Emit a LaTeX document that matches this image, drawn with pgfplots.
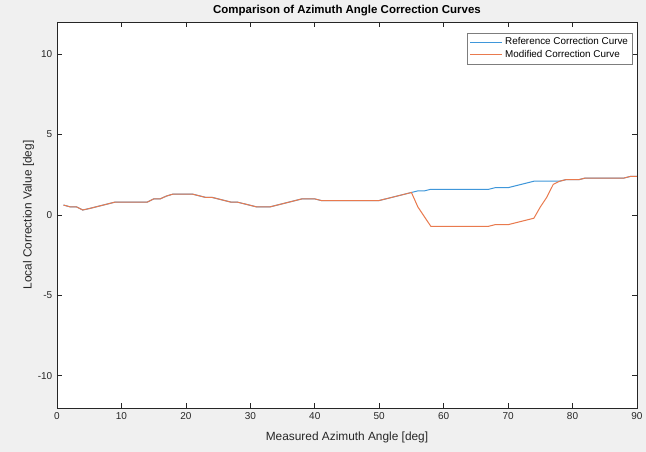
\documentclass[border=0pt]{standalone}
\usepackage{pgfplots}
\pgfplotsset{compat=1.18}
\usepackage{fontspec}
\setmainfont{Liberation Sans}
\definecolor{figbg}{HTML}{F0F0F0}
\definecolor{axc}{HTML}{262626}
\definecolor{mblue}{HTML}{3F97DA}
\definecolor{morange}{HTML}{E97A4E}
\begin{document}
\begin{tikzpicture}
\useasboundingbox (0pt,0pt) rectangle (484.5pt,339pt);
\fill[figbg] (0pt,0pt) rectangle (484.5pt,339pt);
\begin{axis}[
  at={(42.75pt,33pt)}, anchor=south west,
  width=435pt, height=289.5pt, scale only axis,
  xmin=0, xmax=90, ymin=-12, ymax=12,
  xtick={0,10,...,90}, ytick={-10,-5,0,5,10},
  axis background/.style={fill=white},
  axis line style={axc, line width=0.5pt},
  tick style={axc, line width=0.5pt},
  tick align=inside, major tick length=3.5pt,
  ticklabel style={font=\fontsize{7.5}{9}\selectfont, text=axc},
  /pgf/number format/assume math mode=true,
  xlabel={Measured Azimuth Angle [deg]},
  ylabel={Local Correction Value [deg]},
  label style={font=\fontsize{8.9}{10.5}\selectfont, text=axc},
  xlabel style={yshift=-2.5pt},
  ylabel style={yshift=-4pt},
  title={\textbf{Comparison of Azimuth Angle Correction Curves}},
  title style={font=\fontsize{8.6}{10}\selectfont, yshift=-5pt},
  legend style={at={(0.993,0.972)}, anchor=north east, font=\fontsize{7.4}{8.5}\selectfont, draw=axc!60, fill=white, row sep=-1.5pt, inner sep=1.5pt},
  legend cell align=left,
  legend image code/.code={\draw[#1, line width=0.6pt] (0pt,0pt) -- (24pt,0pt);},
  every axis plot/.append style={line width=0.75pt},
]
\addplot[draw=mblue] coordinates {
(1,0.62)(2,0.51)(3,0.51)(4,0.31)(5,0.40)(6,0.50)(7,0.60)(8,0.70)(9,0.80)(10,0.80)
(11,0.80)(12,0.80)(13,0.80)(14,0.80)(15,1.00)(16,1.00)(17,1.18)(18,1.30)(19,1.30)(20,1.30)
(21,1.30)(22,1.20)(23,1.10)(24,1.10)(25,1.00)(26,0.90)(27,0.80)(28,0.80)(29,0.70)(30,0.60)
(31,0.50)(32,0.50)(33,0.50)(34,0.60)(35,0.70)(36,0.80)(37,0.90)(38,1.00)(39,1.00)(40,1.00)
(41,0.90)(42,0.90)(43,0.90)(44,0.90)(45,0.90)(46,0.90)(47,0.90)(48,0.90)(49,0.90)(50,0.90)
(51,1.00)(52,1.10)(53,1.20)(54,1.30)(55,1.40)(56,1.50)(57,1.50)(58,1.60)(59,1.60)(60,1.60)
(61,1.60)(62,1.60)(63,1.60)(64,1.60)(65,1.60)(66,1.60)(67,1.60)(68,1.70)(69,1.70)(70,1.70)
(71,1.80)(72,1.90)(73,2.00)(74,2.10)(75,2.10)(76,2.10)(77,2.10)(78,2.10)(79,2.20)(80,2.20)
(81,2.20)(82,2.30)(83,2.30)(84,2.30)(85,2.30)(86,2.30)(87,2.30)(88,2.30)(89,2.40)(90,2.40)
};
\addlegendentry{Reference Correction Curve}
\addplot[draw=morange] coordinates {
(1,0.62)(2,0.51)(3,0.51)(4,0.31)(5,0.40)(6,0.50)(7,0.60)(8,0.70)(9,0.80)(10,0.80)
(11,0.80)(12,0.80)(13,0.80)(14,0.80)(15,1.00)(16,1.00)(17,1.18)(18,1.30)(19,1.30)(20,1.30)
(21,1.30)(22,1.20)(23,1.10)(24,1.10)(25,1.00)(26,0.90)(27,0.80)(28,0.80)(29,0.70)(30,0.60)
(31,0.50)(32,0.50)(33,0.50)(34,0.60)(35,0.70)(36,0.80)(37,0.90)(38,1.00)(39,1.00)(40,1.00)
(41,0.90)(42,0.90)(43,0.90)(44,0.90)(45,0.90)(46,0.90)(47,0.90)(48,0.90)(49,0.90)(50,0.90)
(51,1.00)(52,1.10)(53,1.20)(54,1.30)(55,1.40)(56,0.50)(57,-0.10)(58,-0.70)(59,-0.70)(60,-0.70)
(61,-0.70)(62,-0.70)(63,-0.70)(64,-0.70)(65,-0.70)(66,-0.70)(67,-0.70)(68,-0.60)(69,-0.60)(70,-0.60)
(71,-0.50)(72,-0.40)(73,-0.30)(74,-0.20)(75,0.50)(76,1.10)(77,1.90)(78,2.10)(79,2.20)(80,2.20)
(81,2.20)(82,2.30)(83,2.30)(84,2.30)(85,2.30)(86,2.30)(87,2.30)(88,2.30)(89,2.40)(90,2.40)
};
\addlegendentry{Modified Correction Curve}
\end{axis}
\end{tikzpicture}
\end{document}
